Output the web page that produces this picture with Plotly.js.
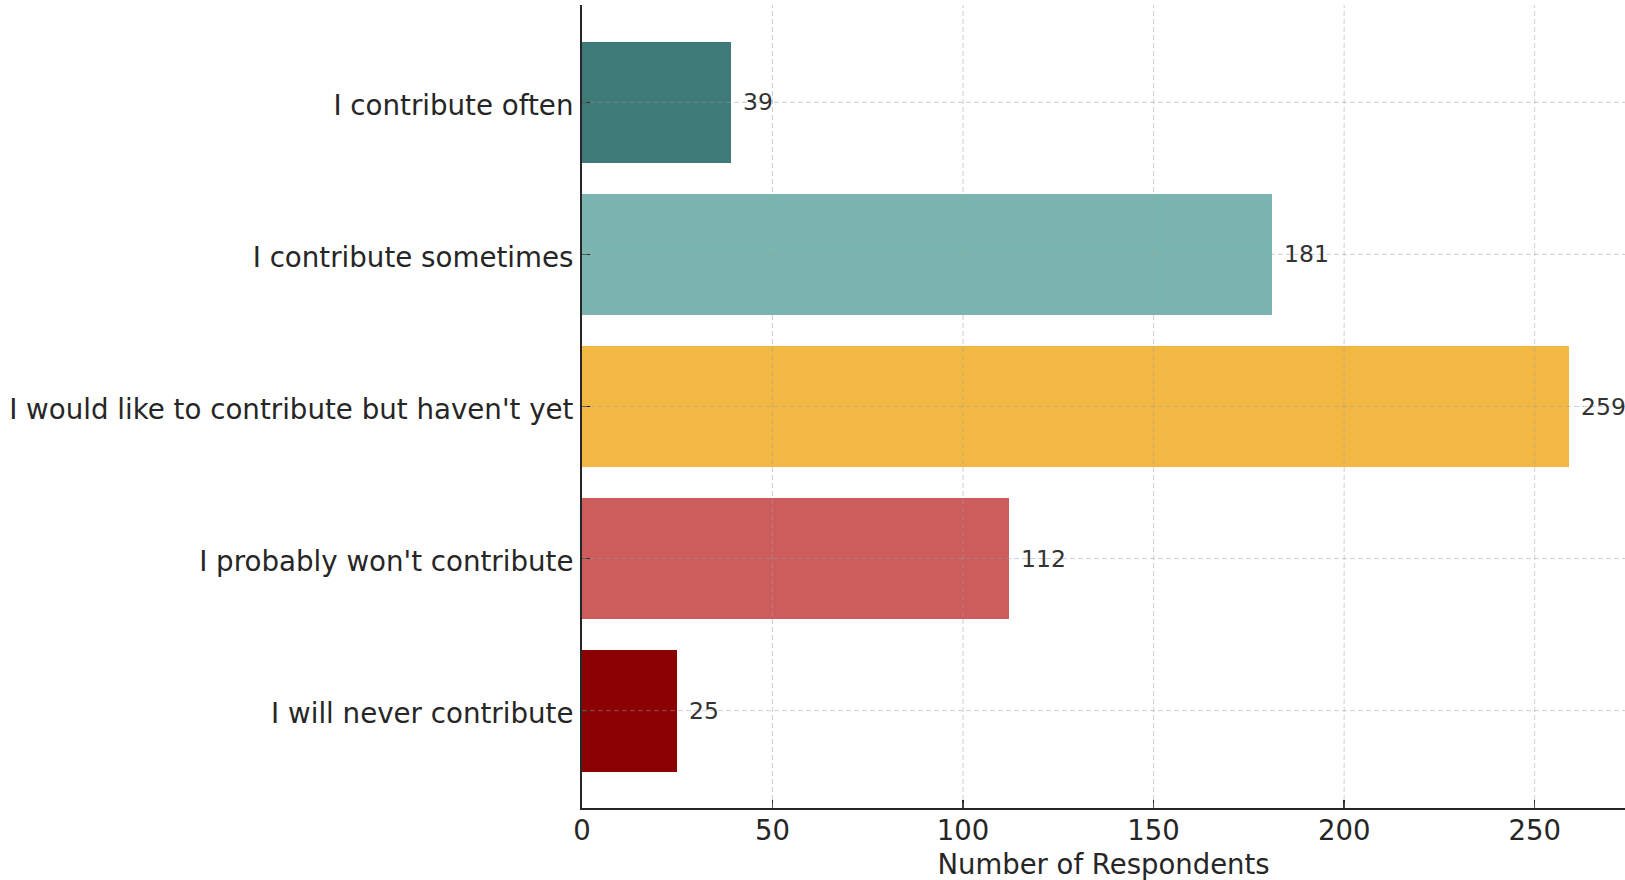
<!DOCTYPE html>
<html>
<head>
<meta charset="utf-8">
<script src="https://cdn.plot.ly/plotly-3.0.1.min.js"></script>
<style>html,body{margin:0;padding:0;background:#fff;}#chart{width:1625px;height:880px;}</style>
</head>
<body>
<div id="chart"></div>
<script>
const categories = [
  "I contribute often",
  "I contribute sometimes",
  "I would like to contribute but haven't yet",
  "I probably won't contribute",
  "I will never contribute"
];
const counts = [39, 181, 259, 112, 25];
const barColors = ["#3d7a78", "#7ab5b0", "#f2b843", "#cd5c5c", "#8b0000"];
const xTicks = [0, 50, 100, 150, 200, 250];
const xTitle = "Number of Respondents";

const FONT = "DejaVu Sans, sans-serif";
const gridColor = "rgba(160,160,160,0.5)";

const trace = {
  type: "bar",
  orientation: "h",
  x: counts,
  y: categories,
  width: 0.8,
  marker: { color: barColors, line: { width: 0 } },
  hoverinfo: "x+y",
  showlegend: false
};

const shapes = [];
xTicks.forEach(v => {
  if (v === 0) return;
  shapes.push({ type: "line", layer: "above", xref: "x", yref: "paper", x0: v, x1: v, y0: 0, y1: 1,
    line: { color: gridColor, width: 1, dash: "5px,3px" } });
});
categories.forEach(c => {
  shapes.push({ type: "line", layer: "above", xref: "paper", yref: "y", x0: 0, x1: 1, y0: c, y1: c,
    line: { color: gridColor, width: 1, dash: "5px,3px" } });
});

const annotations = categories.map((c, i) => ({
  x: counts[i], y: c, xref: "x", yref: "y",
  text: String(counts[i]), showarrow: false,
  xanchor: "left", yanchor: "middle", xshift: 10,
  font: { family: FONT, size: 23.5, color: "#333333" }
}));

const layout = {
  width: 1625, height: 880,
  margin: { l: 582, r: 0, t: 5, b: 72 },
  paper_bgcolor: "#ffffff", plot_bgcolor: "#ffffff",
  font: { family: FONT, size: 27.5, color: "#262626" },
  bargap: 0,
  xaxis: {
    range: [0, 273.7],
    tickvals: xTicks,
    ticktext: xTicks.map(String),
    ticks: "inside", ticklen: 8, tickwidth: 1.5, tickcolor: "#262626",
    showline: true, linewidth: 2, linecolor: "#262626",
    showgrid: false, zeroline: false,
    tickfont: { family: FONT, size: 27.5, color: "#262626" },
    ticklabelstandoff: -3,
    title: { text: xTitle, font: { family: FONT, size: 27.5, color: "#262626" }, standoff: 14 }
  },
  yaxis: {
    type: "category",
    categoryorder: "array", categoryarray: categories,
    range: [4.64, -0.64],
    ticks: "inside", ticklen: 8, tickwidth: 1.5, tickcolor: "#262626",
    showline: true, linewidth: 2, linecolor: "#262626",
    showgrid: false, zeroline: false,
    tickfont: { family: FONT, size: 27.7, color: "#262626" },
    ticklabelstandoff: 1,
    ticklabelshift: -3
  },
  shapes: shapes,
  annotations: annotations
};

Plotly.newPlot("chart", [trace], layout, { displayModeBar: false, staticPlot: true });
</script>
</body>
</html>
